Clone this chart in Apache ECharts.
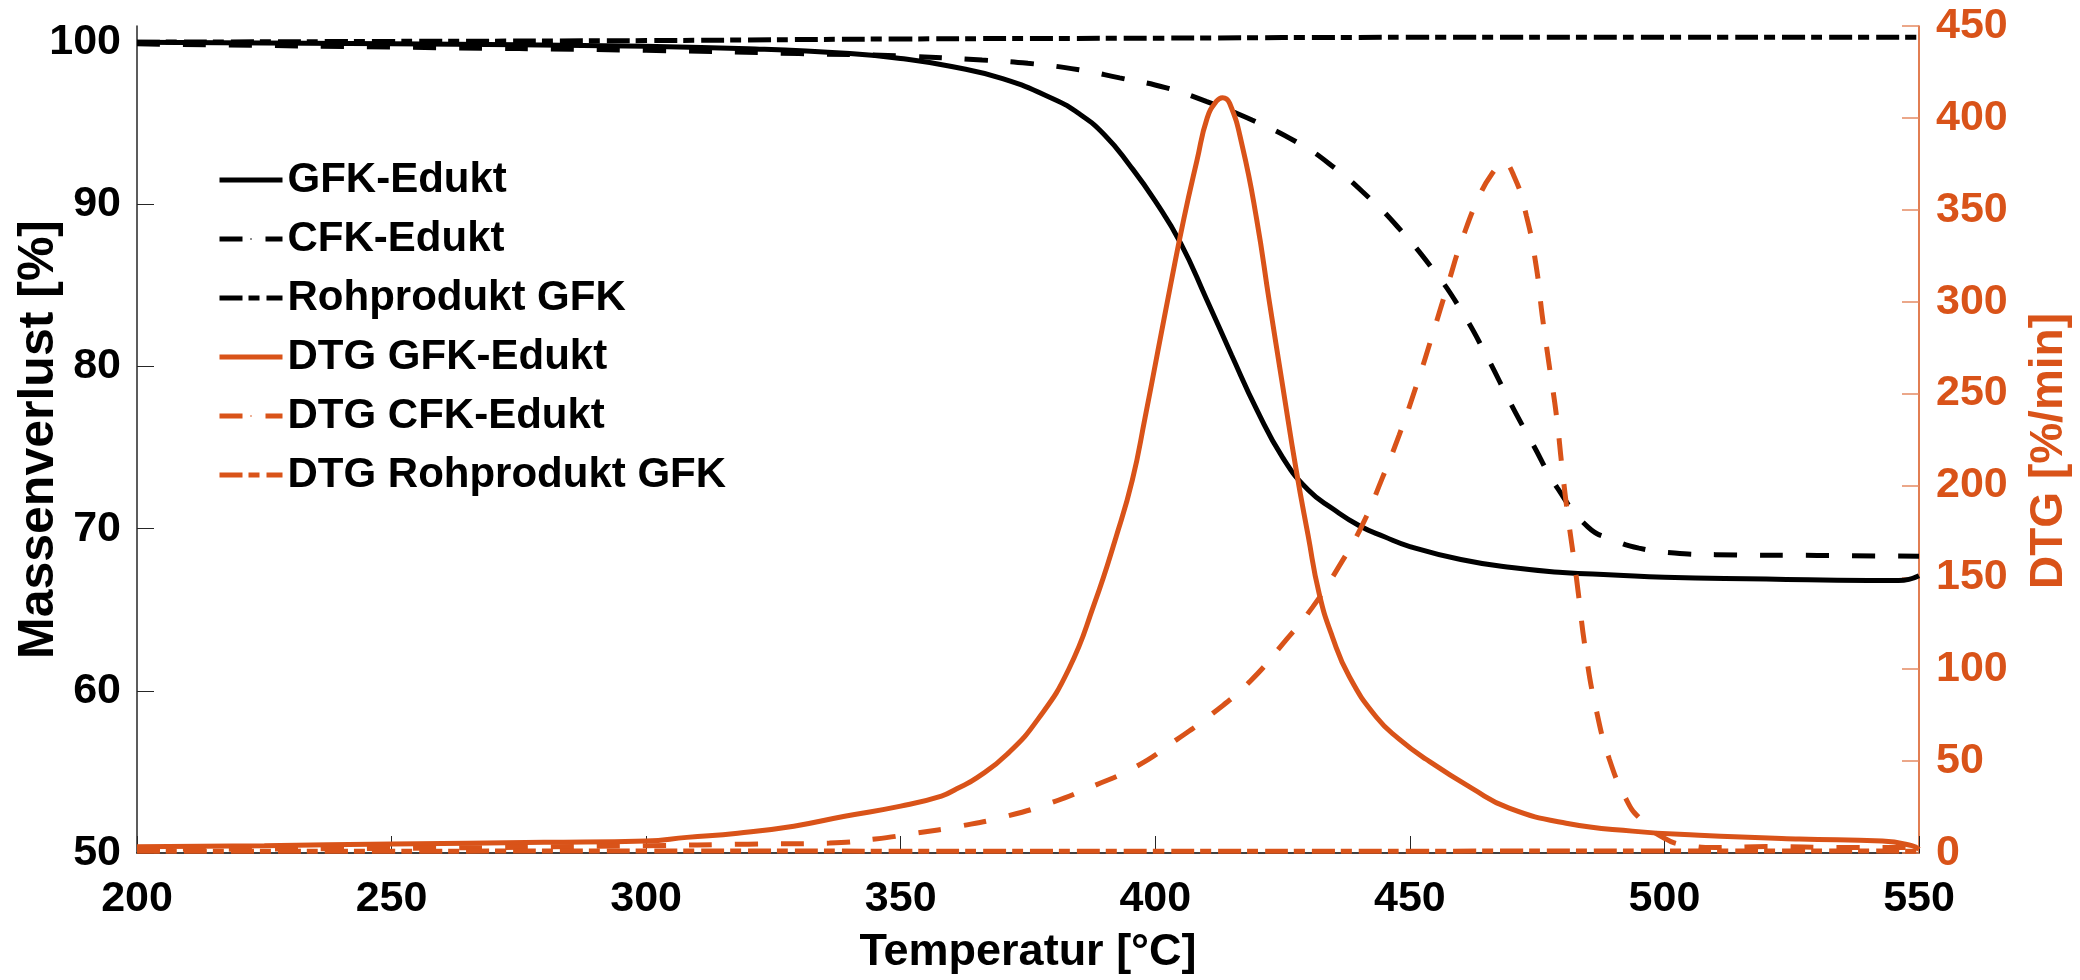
<!DOCTYPE html>
<html>
<head>
<meta charset="utf-8">
<title>TGA / DTG</title>
<script src="https://cdn.jsdelivr.net/npm/echarts@6/dist/echarts.min.js"></script>
<style>
	html,body{margin:0;padding:0;background:#fff;}
	#chartmain{width:2080px;height:980px;}
</style>
</head>
<body>
<div id="chartmain"></div>
<script>
// Massenverlust (linke Achse)
var gfkT    = [200,250,300,320,340,350,360,370,380,385,390,395,400,405,410,415,420,425,430,435,440,445,450,460,470,480,490,500,520,540,546,550];
var gfkMass = [100.0,99.9,99.75,99.6,99.3,99.0,98.5,97.75,96.5,95.6,94.3,92.4,90.2,87.6,84.2,80.7,77.3,74.4,72.4,71.2,70.2,69.5,68.9,68.1,67.6,67.3,67.15,67.0,66.9,66.8,66.8,67.1];

var cfkT    = [200,250,300,330,350,366,375,385,393,402,410,419,428,435,442,447.5,455,460,465,470,474,479,485,490,495,502,510,530,550];
var cfkMass = [99.9,99.7,99.5,99.3,99.15,98.9,98.7,98.3,97.8,97.2,96.35,95.2,93.8,92.3,90.4,88.65,85.8,83.5,80.7,77.6,75.3,72.5,70.1,69.3,68.8,68.5,68.4,68.35,68.3];

var rohT    = [200,250,300,350,400,450,500,550];
var rohMass = [100.0,100.05,100.1,100.2,100.25,100.3,100.3,100.3];

// DTG (rechte Achse)
var dtgGfkT = [200,225,250,280,300,308,318,329,339,350,358,361,365,371,377,383,388,392.3,395.5,398,400.5,403,405.6,408.2,410.2,412,413.2,414.6,417.1,419.9,422.4,425,427.7,430,432.2,434.8,438.1,443.4,447.9,453.2,462.3,469.5,480.7,493.7,506.8,526.5,542.8,548.6,550];
var dtgGfk  = [3.4,4.0,4.9,5.8,6.5,8.5,10.8,14.6,20,25.5,31,35,41,54,73,100,135.4,172,203,237,273,309,345,377,400,409,411,408,384.5,345,300,254.5,208,173,141,117.5,96,74,62,51,35,24.4,16.2,11.9,9.7,7.6,6.5,4,2];

var dtgCfkT = [200,250,300,320,336,345,353,361.6,370.8,379.2,387.7,396.3,404.2,411.2,418.5,425,430.9,436.2,440.7,444.6,447.9,451.3,454.4,457.4,460.3,464,466.5,468.2,470.5,472.9,474.8,476,477.4,478.8,479.9,480.9,482.7,484.6,486.6,489.2,492.5,495.1,500,505,510,520,535,550];
var dtgCfk  = [2,2.5,4,4.8,5.4,7.6,10.8,14.6,20,27,36.3,47.1,61.7,75.8,93.1,113.7,133.8,156.5,178.7,204.1,227.4,254.5,281.6,308.7,334.1,359.6,371,376,368,346.6,319.5,292.4,264.8,237.7,209.6,186.3,150,108.3,78,50.9,29.2,19,8,4,3,3.5,3,3];

var dtgRohT = [200,250,300,350,400,450,500,550];
var dtgRoh  = [1.0,1.0,1.1,1.0,0.9,1.0,1.1,1.0];

var xTicks = [200,250,300,350,400,450,500,550];
var leftTicks = [50,60,70,80,90,100];

var ORANGE = '#D95319';
var FONT = '"Liberation Sans", Arial, sans-serif';

function pairs(xs, ys){
	var out = [];
	for(var i=0;i<xs.length;i++){
		out.push([xs[i], ys[i]]);
	}
	return out;
}

function line(name, xs, ys, color, dash, axis){
	return {
		name: name,
		type: 'line',
		yAxisIndex: axis,
		data: pairs(xs, ys),
		symbol: 'none',
		smooth: 0.5,
		lineStyle: {color: color, width: 5, type: dash, cap: 'butt'},
		itemStyle: {color: color}
	};
}

var myChart = echarts.init(document.getElementById('chartmain'), null, {renderer: 'canvas'});
var option = {
	animation: false,
	backgroundColor: '#ffffff',
	grid: {left: 137, right: 160, top: 26, bottom: 123},
	legend: {
		orient: 'vertical',
		left: 212,
		top: 154,
		itemWidth: 63,
		itemHeight: 2,
		itemGap: 17,
		lineStyle: {width: 5},
		textStyle: {fontSize: 42, fontWeight: 'bold', color: '#000', fontFamily: FONT, lineHeight: 42},
		data: ['GFK-Edukt','CFK-Edukt','Rohprodukt GFK','DTG GFK-Edukt','DTG CFK-Edukt','DTG Rohprodukt GFK']
	},
	xAxis: {
		type: 'value',
		min: 200, max: 550, interval: 50,
		name: 'Temperatur [°C]',
		nameLocation: 'middle',
		nameGap: 77,
		nameMoveOverlap: false,
		nameTextStyle: {fontSize: 45, fontWeight: 'bold', color: '#000', fontFamily: FONT},
		axisLine: {show: true, lineStyle: {color: '#000', width: 1.5}},
		axisTick: {inside: true, length: 17, customValues: xTicks, lineStyle: {color: '#262626', width: 1}},
		axisLabel: {margin: 25, color: '#000', fontSize: 43, fontWeight: 'bold', fontFamily: FONT, customValues: xTicks},
		splitLine: {show: false}
	},
	yAxis: [
		{
			type: 'value',
			position: 'left',
			min: 50, max: 101, interval: 10,
			name: 'Massenverlust [%]',
			nameLocation: 'middle',
			nameGap: 73,
			nameMoveOverlap: false,
			nameTextStyle: {fontSize: 50, fontWeight: 'bold', color: '#000', fontFamily: FONT},
			axisLine: {show: true, lineStyle: {color: '#262626', width: 1.5}},
			axisTick: {show: true, inside: true, length: 17, customValues: leftTicks, lineStyle: {color: '#262626', width: 1}},
			axisLabel: {margin: 16, color: '#000', fontSize: 43, fontWeight: 'bold', fontFamily: FONT, customValues: leftTicks,
				formatter: function(v){ return v % 10 === 0 ? v : ''; }},
			splitLine: {show: false}
		},
		{
			type: 'value',
			position: 'right',
			min: 0, max: 450, interval: 50,
			name: 'DTG [%/min]',
			nameLocation: 'middle',
			nameGap: 107,
			nameMoveOverlap: false,
			nameTextStyle: {fontSize: 46, fontWeight: 'bold', color: ORANGE, fontFamily: FONT, padding: [0, 23, 0, 0]},
			axisLine: {show: true, lineStyle: {color: ORANGE, width: 1.5}},
			axisTick: {show: true, inside: true, length: 17, lineStyle: {color: '#E58A63', width: 1.5}},
			axisLabel: {margin: 17, color: ORANGE, fontSize: 43, fontWeight: 'bold', fontFamily: FONT},
			splitLine: {show: false}
		}
	],
	series: [
		line('GFK-Edukt', gfkT, gfkMass, '#000', 'solid', 0),
		line('CFK-Edukt', cfkT, cfkMass, '#000', [23,23], 0),
		line('Rohprodukt GFK', rohT, rohMass, '#000', [23,6,11,7], 0),
		line('DTG GFK-Edukt', dtgGfkT, dtgGfk, ORANGE, 'solid', 1),
		line('DTG CFK-Edukt', dtgCfkT, dtgCfk, ORANGE, [23,23], 1),
		line('DTG Rohprodukt GFK', dtgRohT, dtgRoh, ORANGE, [23,6,11,7], 1)
	]
};
myChart.setOption(option);
</script>
</body>
</html>
